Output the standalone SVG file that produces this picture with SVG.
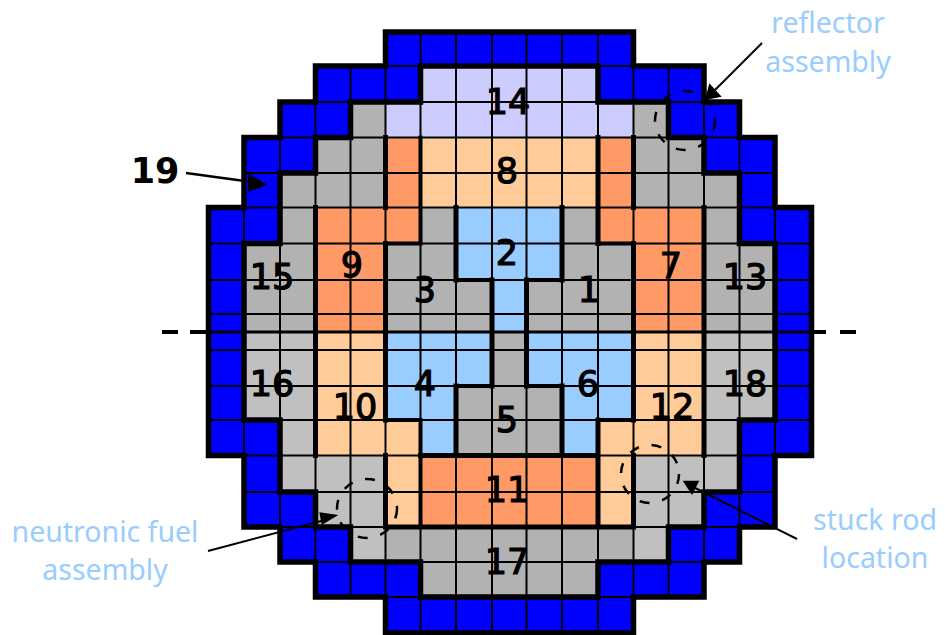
<svg xmlns="http://www.w3.org/2000/svg" width="945" height="635" viewBox="0 0 945 635">
<style>
.blue{fill:#0000FF}.lav{fill:#CCCCFF}.peach{fill:#FFCC99}.orange{fill:#FF9966}.sky{fill:#99CCFF}.gray{fill:#B2B2B2}.lgray{fill:#C0C0C0}
.grid{stroke:#000;stroke-width:2;fill:none}
.wall{stroke:#000;stroke-width:5;fill:none;stroke-linecap:square}
.med{stroke:#000;stroke-width:4;fill:none;stroke-linecap:square}
.num{font-family:"DejaVu Sans",sans-serif;font-size:35px;fill:#000;stroke:#000;stroke-width:1.2;text-anchor:middle}
.lab{font-family:"Noto Sans",sans-serif;font-size:28.5px;fill:#99CCFF;text-anchor:middle}
.ring{fill:none;stroke:#000;stroke-width:2.5;stroke-dasharray:10 13}
.ln{stroke:#000;stroke-width:2;fill:none}
</style>
<defs>
<clipPath id="c"><polygon points="385.5,32 633.5,32 633.5,66 704,66 704,102 739.5,102 739.5,137.5 775,137.5 775,207.5 811.5,207.5 811.5,455.5 775,455.5 775,527 739.5,527 739.5,562 704,562 704,597 633.5,597 633.5,633 385.5,633 385.5,597 315.5,597 315.5,562 280,562 280,527 244,527 244,455.5 208.5,455.5 208.5,207.5 244,207.5 244,137.5 280,137.5 280,102 315.5,102 315.5,66 385.5,66"/></clipPath>
</defs>
<g id="r19"><path class="blue" fill-rule="evenodd" d="M385.5,32 633.5,32 633.5,66 704,66 704,102 739.5,102 739.5,137.5 775,137.5 775,207.5 811.5,207.5 811.5,455.5 775,455.5 775,527 739.5,527 739.5,562 704,562 704,597 633.5,597 633.5,633 385.5,633 385.5,597 315.5,597 315.5,562 280,562 280,527 244,527 244,455.5 208.5,455.5 208.5,207.5 244,207.5 244,137.5 280,137.5 280,102 315.5,102 315.5,66 385.5,66Z M420.5,66 598,66 598,102 668.5,102 668.5,137.5 704,137.5 704,173 739.5,173 739.5,243.5 775,243.5 775,420 739.5,420 739.5,492 704,492 704,527 668.5,527 668.5,562 598,562 598,597 420.5,597 420.5,562 350.5,562 350.5,527 315.5,527 315.5,492 280,492 280,420 244,420 244,243.5 280,243.5 280,173 315.5,173 315.5,137.5 350.5,137.5 350.5,102 420.5,102Z"/></g>
<g id="fills">
<polygon id="r14" class="lav" points="420.5,66 598,66 598,102 633.5,102 633.5,137.5 385.5,137.5 385.5,102 420.5,102"/>
<polygon id="r8" class="peach" points="420.5,137.5 598,137.5 598,207.5 420.5,207.5"/>
<polygon id="r9" class="orange" points="385.5,137.5 420.5,137.5 420.5,243.5 385.5,243.5 385.5,332 315.5,332 315.5,207.5 385.5,207.5"/>
<polygon id="r7" class="orange" points="598,137.5 633.5,137.5 633.5,207.5 704,207.5 704,332 633.5,332 633.5,243.5 598,243.5"/>
<polygon id="r2" class="sky" points="456,207.5 562,207.5 562,280 526.5,280 526.5,332 492,332 492,280 456,280"/>
<polygon id="r3" class="gray" points="420.5,207.5 456,207.5 456,280 492,280 492,332 385.5,332 385.5,243.5 420.5,243.5"/>
<polygon id="r1" class="gray" points="562,207.5 598,207.5 598,243.5 633.5,243.5 633.5,332 526.5,332 526.5,280 562,280"/>
<polygon id="r15" class="gray" points="350.5,102 385.5,102 385.5,207.5 315.5,207.5 315.5,332 244,332 244,243.5 280,243.5 280,173 315.5,173 315.5,137.5 350.5,137.5"/>
<polygon id="r13" class="gray" points="633.5,102 668.5,102 668.5,137.5 704,137.5 704,173 739.5,173 739.5,243.5 775,243.5 775,332 704,332 704,207.5 633.5,207.5"/>
<polygon id="r16" class="lgray" points="244,332 315.5,332 315.5,455.5 385.5,455.5 385.5,562 350.5,562 350.5,527 315.5,527 315.5,492 280,492 280,420 244,420"/>
<polygon id="r18" class="lgray" points="704,332 775,332 775,420 739.5,420 739.5,492 704,492 704,527 668.5,527 668.5,562 633.5,562 633.5,455.5 704,455.5"/>
<polygon id="r10" class="peach" points="315.5,332 385.5,332 385.5,420 420.5,420 420.5,527 385.5,527 385.5,455.5 315.5,455.5"/>
<polygon id="r12" class="peach" points="633.5,332 704,332 704,455.5 633.5,455.5 633.5,527 598,527 598,420 633.5,420"/>
<polygon id="r4" class="sky" points="385.5,332 492,332 492,386 456,386 456,455.5 420.5,455.5 420.5,420 385.5,420"/>
<polygon id="r6" class="sky" points="526.5,332 633.5,332 633.5,420 598,420 598,455.5 562,455.5 562,386 526.5,386"/>
<polygon id="r5" class="gray" points="492,332 526.5,332 526.5,386 562,386 562,455.5 456,455.5 456,386 492,386"/>
<polygon id="r11" class="orange" points="420.5,455.5 598,455.5 598,527 420.5,527"/>
<polygon id="r17" class="gray" points="385.5,527 633.5,527 633.5,562 598,562 598,597 420.5,597 420.5,562 385.5,562"/>
</g>
<g id="gridlines" clip-path="url(#c)">
<path class="grid" d="M244,32V633M280,32V633M315.5,32V633M350.5,32V633M385.5,32V633M420.5,32V633M456,32V633M492,32V633M526.5,32V633M562,32V633M598,32V633M633.5,32V633M668.5,32V633M704,32V633M739.5,32V633M775,32V633"/>
<path class="grid" d="M208,66H812M208,102H812M208,137.5H812M208,173H812M208,207.5H812M208,243.5H812M208,280H812M208,314H812M208,350H812M208,386H812M208,420H812M208,455.5H812M208,492H812M208,527H812M208,562H812M208,597H812"/>
</g>
<g id="walls">
<path class="wall" d="M315.5,207.5V455.5M385.5,137.5V207.5M385.5,243.5V420M385.5,455.5V527M633.5,137.5V207.5M633.5,243.5V420M633.5,455.5V527M704,207.5V455.5M598,137.5V243.5M598,420V527M385.5,527H633.5M456,207.5V280M562,207.5V280M492,280V386M526.5,280V386M456,386V455.5M562,386V455.5M420.5,455.5H598"/>
<path class="med" d="M420.5,137.5V243.5H385.5M385.5,420H420.5V527M598,243.5H633.5M598,420H633.5M456,280H492M526.5,280H562M456,386H492M526.5,386H562"/>
<path fill="none" stroke="#000" stroke-width="5.5" stroke-linejoin="miter" d="M385.5,32 633.5,32 633.5,66 704,66 704,102 739.5,102 739.5,137.5 775,137.5 775,207.5 811.5,207.5 811.5,455.5 775,455.5 775,527 739.5,527 739.5,562 704,562 704,597 633.5,597 633.5,633 385.5,633 385.5,597 315.5,597 315.5,562 280,562 280,527 244,527 244,455.5 208.5,455.5 208.5,207.5 244,207.5 244,137.5 280,137.5 280,102 315.5,102 315.5,66 385.5,66Z M420.5,66 598,66 598,102 668.5,102 668.5,137.5 704,137.5 704,173 739.5,173 739.5,243.5 775,243.5 775,420 739.5,420 739.5,492 704,492 704,527 668.5,527 668.5,562 598,562 598,597 420.5,597 420.5,562 350.5,562 350.5,527 315.5,527 315.5,492 280,492 280,420 244,420 244,243.5 280,243.5 280,173 315.5,173 315.5,137.5 350.5,137.5 350.5,102 420.5,102Z"/>
</g>
<g id="midline">
<path stroke="#000" stroke-width="3" d="M208.5,332H811.5"/>
<path stroke="#000" stroke-width="4" d="M162,332H178M190,332H208M812,332H826M840,332H856"/>
</g>
<g id="rings">
<ellipse class="ring" cx="685" cy="120.5" rx="30" ry="29.5"/>
<ellipse class="ring" cx="367" cy="508.5" rx="30" ry="29.5"/>
<ellipse class="ring" cx="650" cy="474" rx="29" ry="29"/>
</g>
<g id="connectors">
<path class="ln" d="M762,43L711,94"/><polygon points="705,100 721.7,96.7 709.3,83.3"/>
<path class="ln" d="M186,173L252,182" style="stroke-width:2.5"/><polygon points="267.7,185 248.3,173.3 248.3,191.7"/>
<path class="ln" d="M208,551L325,520"/><polygon points="338.3,515 319.3,512.3 321.7,525"/>
<path class="ln" d="M797,539L695,488"/><polygon points="692,495 682.7,480.7 699.3,480.7"/>
</g>
<g id="numbers">
<text class="num" x="508" y="114">14</text>
<text class="num" x="507" y="183">8</text>
<text class="num" x="507" y="265">2</text>
<text class="num" x="425" y="302">3</text>
<text class="num" x="589" y="302">1</text>
<text class="num" x="352" y="277">9</text>
<text class="num" x="671" y="278">7</text>
<text class="num" x="272" y="289">15</text>
<text class="num" x="745" y="289">13</text>
<text class="num" x="272" y="396">16</text>
<text class="num" x="745" y="396">18</text>
<text class="num" x="425" y="396">4</text>
<text class="num" x="588" y="396">6</text>
<text class="num" x="355" y="419">10</text>
<text class="num" x="672" y="419">12</text>
<text class="num" x="507" y="432">5</text>
<text class="num" x="507" y="502">11</text>
<text class="num" x="507" y="574">17</text>
<text x="155" y="183" font-family="'DejaVu Sans',sans-serif" font-weight="700" font-size="35" text-anchor="middle">19</text>
</g>
<g id="labels">
<text class="lab" x="828" y="33">reflector</text>
<text class="lab" x="828" y="72">assembly</text>
<text class="lab" x="105" y="541.5">neutronic fuel</text>
<text class="lab" x="105" y="580">assembly</text>
<text class="lab" x="875" y="530">stuck rod</text>
<text class="lab" x="875" y="568">location</text>
</g>
</svg>
